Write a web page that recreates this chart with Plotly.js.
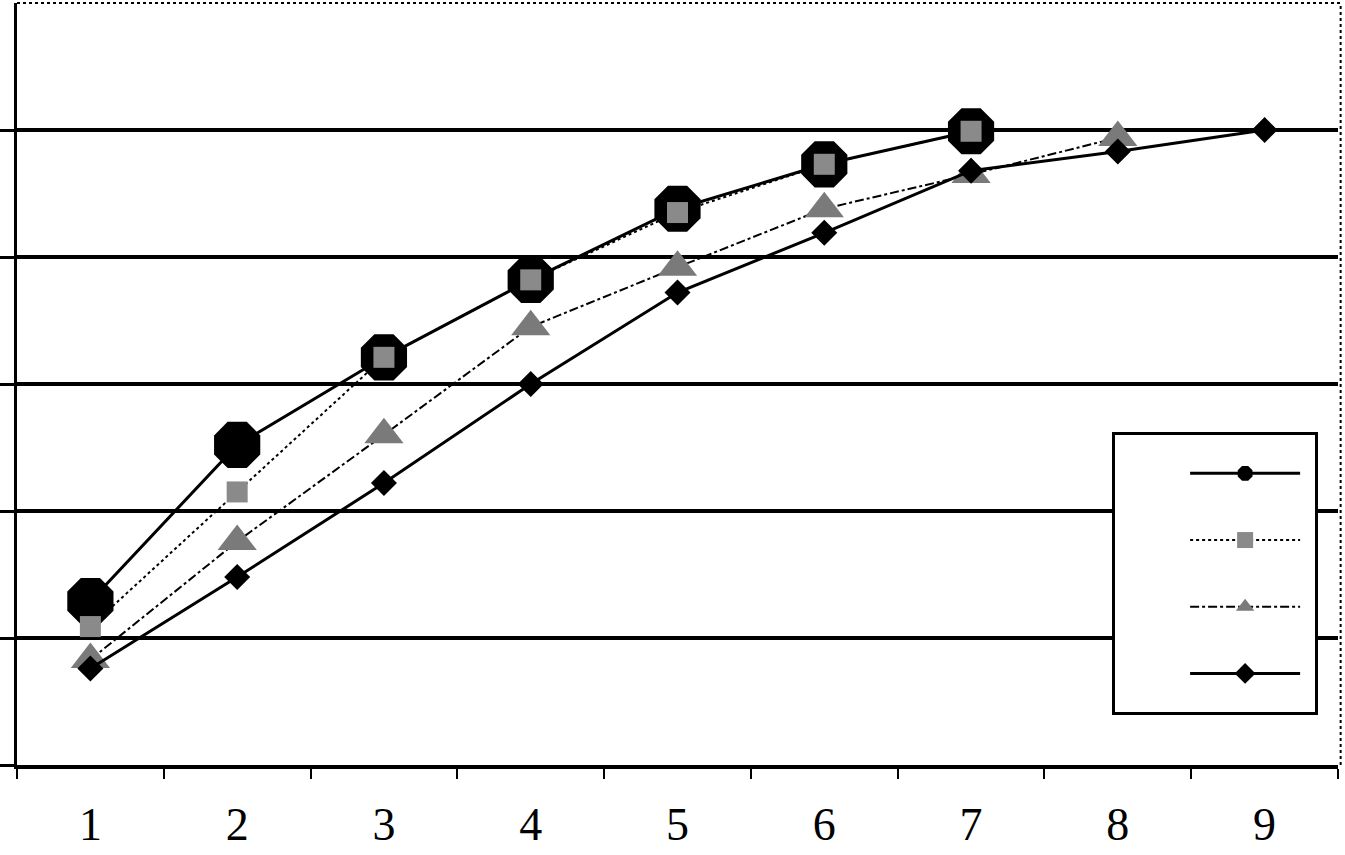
<!DOCTYPE html>
<html>
<head>
<meta charset="utf-8">
<script src="https://cdn.plot.ly/plotly-3.0.1.min.js"></script>
<style>html,body{margin:0;padding:0;background:#fff;}#chart{width:1345px;height:855px;}</style>
</head>
<body>
<div id="chart"></div>
<script>
// Categories (x axis)
const categories = ['1','2','3','4','5','6','7','8','9'];

// Series values (gridline units)
const seriesCircle   = [1.29, 2.52, 3.21, 3.82, 4.38, 4.73, 4.99];
const seriesSquare   = [1.09, 2.15, 3.21, 3.82, 4.35, 4.73, 4.99];
const seriesTriangle = [0.83, 1.76, 2.60, 3.45, 3.92, 4.38, 4.65, 4.94];
const seriesDiamond  = [0.76, 1.48, 2.22, 3.00, 3.72, 4.19, 4.68, 4.83, 5.00];

// Gridline values
const yTickVals = [0, 1, 2, 3, 4, 5];

// The legend in the reference carries no visible labels
const blankName = '\u200a';

const traces = [
  {
    x: categories.slice(0, seriesCircle.length), y: seriesCircle,
    type: 'scatter', mode: 'lines+markers', name: blankName,
    line: {color: '#000', width: 3},
    marker: {symbol: 'octagon', size: 50, color: '#000', line: {width: 0}}
  },
  {
    x: categories.slice(0, seriesSquare.length), y: seriesSquare,
    type: 'scatter', mode: 'lines+markers', name: blankName,
    line: {color: '#000', width: 2, dash: 'dot'},
    marker: {symbol: 'square', size: 21, color: '#8a8a8a', line: {width: 0}}
  },
  {
    x: categories.slice(0, seriesTriangle.length), y: seriesTriangle,
    type: 'scatter', mode: 'lines+markers', name: blankName,
    line: {color: '#000', width: 2, dash: 'dashdot'},
    marker: {symbol: 'triangle-up', size: 34, color: '#7a7a7a', line: {width: 0}}
  },
  {
    x: categories.slice(0, seriesDiamond.length), y: seriesDiamond,
    type: 'scatter', mode: 'lines+markers', name: blankName,
    line: {color: '#000', width: 3},
    marker: {symbol: 'diamond', size: 20, color: '#000', line: {width: 0}}
  }
];

const layout = {
  width: 1345, height: 855,
  margin: {l: 17, r: 7, t: 3, b: 90},
  paper_bgcolor: '#fff', plot_bgcolor: '#fff',
  font: {family: 'Liberation Serif, serif', color: '#000'},
  showlegend: true,
  legend: {
    x: 0.829, y: 0.437, xanchor: 'left', yanchor: 'top',
    bgcolor: '#fff', bordercolor: '#000', borderwidth: 3,
    font: {size: 49}, itemwidth: 110,
    title: {text: '\u00a0\u00a0\u00a0\u00a0\u00a0\u00a0', side: 'left', font: {size: 40}},
    traceorder: 'normal'
  },
  xaxis: {
    type: 'category', categoryorder: 'array', categoryarray: categories,
    range: [-0.5, 8.5],
    showgrid: false, zeroline: false,
    showline: true, linecolor: '#000', linewidth: 4,
    ticks: 'outside', tickson: 'boundaries', ticklen: 10, tickwidth: 2, tickcolor: '#000',
    tickfont: {family: 'Liberation Serif, serif', size: 46, color: '#000'},
    ticklabelstandoff: 16
  },
  yaxis: {
    range: [0, 6],
    tickmode: 'array', tickvals: yTickVals,
    showticklabels: false,
    showgrid: true, gridcolor: '#000', gridwidth: 4,
    zeroline: false,
    showline: true, linecolor: '#000', linewidth: 3,
    ticks: 'outside', ticklen: 15, tickwidth: 3, tickcolor: '#000'
  },
  shapes: [
    {type: 'line', xref: 'paper', yref: 'paper', x0: 0, x1: 1.002, y0: 1, y1: 1,
     line: {color: '#000', width: 2, dash: 'dot'}},
    {type: 'line', xref: 'paper', yref: 'paper', x0: 1.002, x1: 1.002, y0: 0, y1: 1,
     line: {color: '#000', width: 2, dash: 'dot'}}
  ]
};

Plotly.newPlot('chart', traces, layout, {displayModeBar: false, staticPlot: true});
</script>
</body>
</html>
